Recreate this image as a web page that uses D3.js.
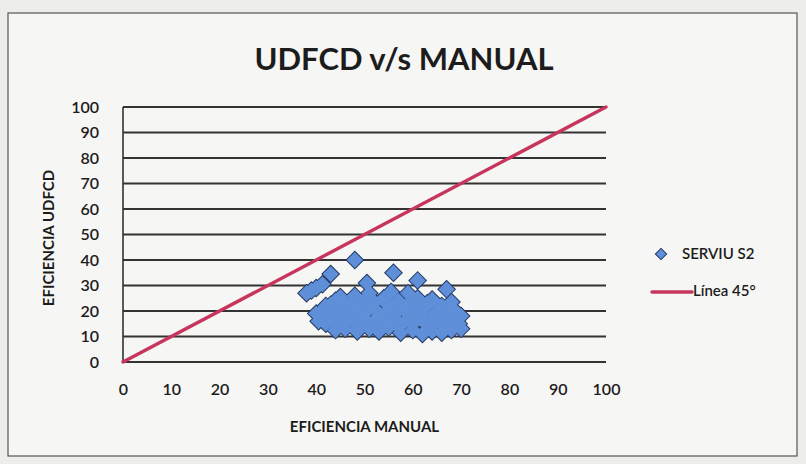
<!DOCTYPE html>
<html>
<head>
<meta charset="utf-8">
<script src="https://cdn.jsdelivr.net/npm/d3@7"></script>
<style>
  html, body { margin: 0; padding: 0; background: #ededeb; }
  svg { display: block; }
  text { font-family: Lato, "Open Sans", sans-serif; fill: #1c1c1c; }
</style>
</head>
<body>
<svg id="chart" width="806" height="464"></svg>
<script>
// Tick values shown on both axes
const xTicks = [0, 10, 20, 30, 40, 50, 60, 70, 80, 90, 100];
const yTicks = [0, 10, 20, 30, 40, 50, 60, 70, 80, 90, 100];

// SERVIU S2 observations: manual efficiency vs UDFCD efficiency
const manual = [
  48, 43, 38, 39, 40, 41.3, 56, 61, 67, 55.5, 50.5, 59,
  42, 44, 45, 47, 48, 50, 51, 52, 54, 56, 57, 59, 61, 63, 64, 66, 68,
  43, 45.5, 48.5, 51.5, 54.5, 57.5, 60, 62.5, 65, 67.5,
  40, 41.5, 43, 44.5, 46, 47.5, 49, 50.5, 52, 53.5, 55, 56.5, 58, 59.5, 61, 62.5, 64, 65.5, 67, 68.5, 70,
  41, 44, 47, 50, 53, 56, 59, 62, 65, 68,
  40.5, 42, 43.5, 45, 46.5, 48, 49.5, 51, 52.5, 54, 55.5, 57, 58.5, 60, 61.5, 63, 65, 66.5, 68, 69.5,
  44, 46, 48.5, 51, 53, 55, 57.5, 60, 62, 64, 66, 68, 70
];
const udfcd = [
  40, 34.5, 27, 28, 29, 30.5, 35, 32, 28.5, 27.5, 31, 27,
  22, 24, 25.5, 23, 26, 24, 27, 23.5, 25, 22, 24, 22.5, 25, 23, 24.5, 22, 23.5,
  22.5, 23, 22, 22.5, 23, 22, 23.5, 22, 22.5, 21.5,
  19, 20.5, 18, 21, 19.5, 21.5, 18.5, 20, 21, 18, 20.5, 19, 21, 18.5, 20, 21.5, 18, 20, 19, 20.5, 18,
  17.5, 18, 17.5, 17, 18, 17.5, 17, 18, 17.5, 17,
  16, 15, 16.5, 14.5, 17, 15.5, 16, 14, 17, 15, 16.5, 14, 16, 15, 17, 14.5, 16, 14, 16.5, 15,
  12.5, 13, 12, 13, 12, 13.5, 11.5, 12.5, 11, 12, 11.5, 12.5, 13
];

// 45° reference line end points
const lineX = [0, 100];
const lineY = [0, 100];

const seriesName = "SERVIU S2";
const lineName = "Línea 45°";
const title = "UDFCD v/s MANUAL";
const xTitle = "EFICIENCIA MANUAL";
const yTitle = "EFICIENCIA UDFCD";

const svg = d3.select("#chart");

// chart frame
svg.append("rect")
  .attr("x", 8).attr("y", 13).attr("width", 789).attr("height", 443)
  .attr("fill", "#f6f6f4").attr("stroke", "#555").attr("stroke-width", 1.2);

const plot = { left: 123, right: 606, top: 107, bottom: 362 };

const x = d3.scaleLinear().domain([0, 100]).range([plot.left, plot.right]);
const y = d3.scaleLinear().domain([0, 100]).range([plot.bottom, plot.top]);

// horizontal gridlines
svg.append("g")
  .selectAll("line")
  .data(yTicks)
  .join("line")
  .attr("x1", plot.left).attr("x2", plot.right)
  .attr("y1", d => y(d)).attr("y2", d => y(d))
  .attr("stroke", "#333").attr("stroke-width", 1.8);

// left axis line
svg.append("line")
  .attr("x1", plot.left).attr("x2", plot.left)
  .attr("y1", plot.top).attr("y2", plot.bottom)
  .attr("stroke", "#333").attr("stroke-width", 1.6);

// y axis labels
const yAxis = svg.append("g")
  .attr("transform", `translate(${plot.left},0)`)
  .call(d3.axisLeft(y).tickValues(yTicks).tickSize(0).tickPadding(24));
yAxis.select(".domain").remove();
yAxis.selectAll("text")
  .style("font-family", "Lato, 'Open Sans', sans-serif")
  .style("font-size", "16px").style("font-weight", "600").attr("fill", "#1c1c1c");

// x axis labels
const xAxis = svg.append("g")
  .attr("transform", `translate(0,${plot.bottom})`)
  .call(d3.axisBottom(x).tickValues(xTicks).tickSize(0).tickPadding(22));
xAxis.select(".domain").remove();
xAxis.selectAll("text")
  .style("font-family", "Lato, 'Open Sans', sans-serif")
  .style("font-size", "16px").style("font-weight", "600").attr("fill", "#1c1c1c");

// 45° line
svg.append("line")
  .attr("x1", x(lineX[0])).attr("y1", y(lineY[0]))
  .attr("x2", x(lineX[1])).attr("y2", y(lineY[1]))
  .attr("stroke", "#c8355c").attr("stroke-width", 3.4).attr("stroke-linecap", "round");

// scatter markers (diamonds): an outline pass underneath, then the fills,
// so overlapping markers merge into one cloud with a dark rim
const points = manual.map((m, i) => [m, udfcd[i]]);
const diamond = d3.symbol().type(d3.symbolSquare).size(130);
const place = d => `translate(${x(d[0])},${y(d[1])}) rotate(45)`;
svg.append("g")
  .selectAll("path")
  .data(points)
  .join("path")
  .attr("d", diamond)
  .attr("transform", place)
  .attr("fill", "#5f8fd8").attr("stroke", "#243a63").attr("stroke-width", 2);
svg.append("g")
  .selectAll("path")
  .data(points)
  .join("path")
  .attr("d", diamond)
  .attr("transform", place)
  .attr("fill", "#5f8fd8");

// titles
svg.append("text")
  .attr("x", 404).attr("y", 70)
  .attr("text-anchor", "middle")
  .style("font-size", "31px").style("font-weight", "700")
  .text(title);

svg.append("text")
  .attr("x", x(50)).attr("y", 432)
  .attr("text-anchor", "middle")
  .style("font-size", "15px").style("font-weight", "700")
  .text(xTitle);

svg.append("text")
  .attr("transform", "translate(54,238) rotate(-90)")
  .attr("text-anchor", "middle")
  .style("font-size", "15px").style("font-weight", "700")
  .text(yTitle);

// legend
const legend = svg.append("g");
legend.append("path")
  .attr("d", d3.symbol().type(d3.symbolSquare).size(64))
  .attr("transform", "translate(661,254) rotate(45)")
  .attr("fill", "#5f8fd8").attr("stroke", "#243a63").attr("stroke-width", 1);
legend.append("text")
  .attr("x", 682).attr("y", 259)
  .style("font-size", "15px").style("font-weight", "600")
  .text(seriesName);
legend.append("line")
  .attr("x1", 652).attr("x2", 692).attr("y1", 292).attr("y2", 292)
  .attr("stroke", "#c8355c").attr("stroke-width", 3.4).attr("stroke-linecap", "round");
legend.append("text")
  .attr("x", 693).attr("y", 296)
  .style("font-size", "15px").style("font-weight", "600")
  .text(lineName);
</script>
</body>
</html>
